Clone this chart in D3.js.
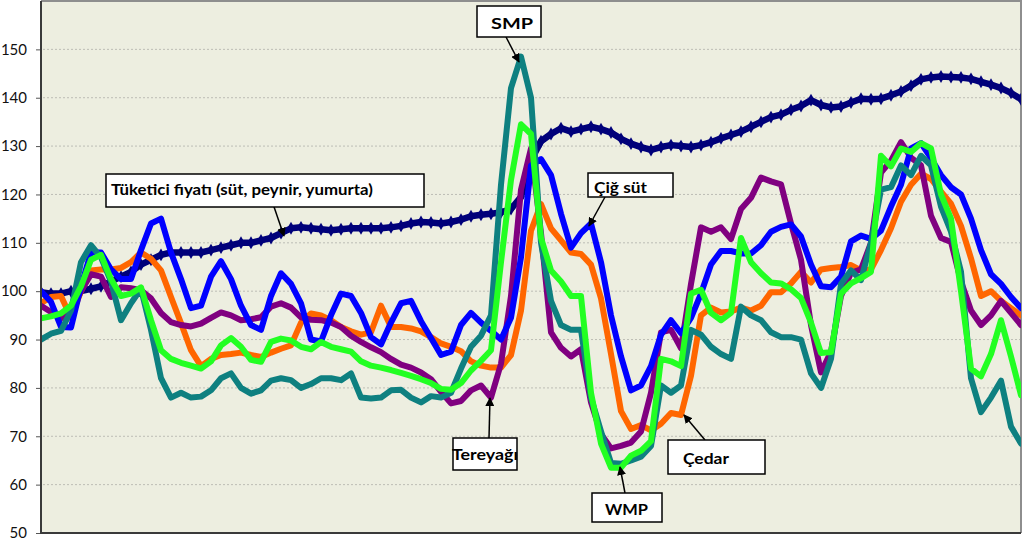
<!DOCTYPE html>
<html>
<head>
<meta charset="utf-8">
<script src="https://cdn.jsdelivr.net/npm/d3@7/dist/d3.min.js"></script>
<style>
  html, body { margin: 0; padding: 0; background: #ffffff; }
  svg { display: block; }
</style>
</head>
<body>
<svg id="chart" width="1024" height="540"></svg>
<script>
// ---- DATA (index positions along the time axis, no labels shown in the original) ----
const categories = d3.range(99);
const yTicks = [50, 60, 70, 80, 90, 100, 110, 120, 130, 140, 150];

const tuketici = [99.8,99.5,99.5,100,100,100.5,101,102,103,104,105.5,106.5,107.5,108,108,108,108,108.5,109,109.5,
  110,110,110.5,111,112,113,113.2,113,112.8,112.6,112.8,113,113,113,113,113.2,113.5,114,114.3,114.2,
  114,114.3,114.8,115.5,115.8,116,116.3,117,119.5,127,131,132.5,133.7,133,133.5,134,133.5,132.8,131.5,130.5,
  129.8,129.2,129.8,130.2,130,129.8,130.2,130.8,131.6,132.3,133,134,135,136,136.5,137.5,138.3,139.5,138.5,138,
  138.2,139,139.8,139.7,139.8,140.5,141.3,142.5,143.8,144.2,144.4,144.3,144.2,143.9,143.3,142.7,142,141,139.7];

const smp = [90,91.2,91.8,96,106,109.5,107,102,94,97.5,100.5,92,82,78,79,78,78.2,79.5,82,83,
  80,78.8,79.5,81.5,82,81.6,80,80.8,82,82,81.6,83,78,77.8,78,79.5,79.6,78,77,78.3,
  78,79,84,88.5,90.8,95,122,142,148.5,140,110,98,93,92,92,78,71,64.5,64.3,65,
  65.8,68,80.5,79,80.5,92,91,88.5,87,86,96.8,95,94,91.5,90.5,90.5,90,83,80,86,
  101.5,104.3,102.3,110,121,121.5,126,124,128,126,117.5,112.3,104,82,75,78,81.5,72,68.5];

const wmp = [94.4,94.8,95.4,97,101,106.5,107.5,102.5,99,99.5,100.8,94,87.8,86,85.2,84.6,84,85.5,88.8,90.3,
  88.5,85.8,85.4,89.5,90.2,89.8,88.5,88,89.5,88.5,88,87.5,85.5,84.6,84.2,83.7,83.1,82.5,81.8,81,
  79.8,79.6,81,83.6,85.6,87.8,106,123,134.5,132.5,111,104.3,102,99,99,79,68.5,63.5,63.5,66,
  67,69,86,85.5,84.5,99.5,100.3,95.5,94,95.5,111,106,103.7,101.8,101.6,100.4,98.6,93.5,87.2,87.4,
  99.5,101.6,102.7,104,128,125.8,129.5,128.8,130.6,129.5,120,115,100,84,82.4,87,94,86.5,78.5];

const cigSut = [100,97.8,92.6,92.5,101,108,108,104.5,102.5,102.5,108.5,114,115,108,102.5,96.5,97,103,106.2,102.5,
  97,93,92,99,103.7,101.5,97.5,90,89.6,95,99.5,99,95.5,90.5,89,93.5,97.5,98,93.8,90.3,
  86.8,87.5,93,95.5,93.5,91.8,90,94.5,107,126,127.3,124,116,109,112,114,106,95,86.5,79.5,
  80.5,84.5,91,94,91.3,94.5,99.5,105.5,108.3,108.3,107.8,107.8,109.5,112.3,113.3,113.8,111.3,105.5,101,100.8,
  103,110.3,111.5,110.8,112.5,117.5,122,129.5,130.6,127.5,124,121.5,120,115,108.5,103.5,101.5,98.8,96.5];

const tereyagi = [97,95.7,94.4,96,100,103.5,103,98.8,100.8,100.6,100.2,98.5,95.5,93.6,93,92.7,93.3,94.5,95.6,95,
  94,94.2,94.6,96.8,97.5,96.6,94.6,94.1,94,93.5,92.6,90.8,89.5,88.4,87.4,86,84.8,84.2,83.2,81.8,
  79.2,76.8,77.3,79.5,80.5,78,85,99,121,129.5,112,91.5,88.3,86.5,88,77,70.5,67.5,68,68.7,
  71,79,91.5,92,88.2,101.5,113.2,112.3,113.2,110.8,117,119.3,123.5,122.7,122.1,114,106.5,93,83.2,87.5,
  99,103.8,104.5,110,124.5,127,130.8,127.6,126,115.6,111,110.2,102,96,93,95,98,95.5,93];

const cedar = [97.5,98.8,99,94.5,100,104.3,104.5,104.5,104.8,106,108,106.7,104.3,98.8,93.4,87.8,84.5,86,86.8,87,
  87.3,86.8,86.4,87.3,88.1,88.8,93.5,95.4,95,94,92.6,91.7,91,91.5,97,92.6,92.6,92.3,91.7,90.5,
  89.2,88.5,87.6,85.5,84.6,84.2,84.2,86.8,96,112.5,118,113,110.5,108,107.7,105.5,98.5,87,75.2,71.5,
  72.3,71.2,72.6,74.8,74.4,82.5,95,96.6,95.6,95.8,96.6,96,97,99.8,99.8,101.6,104,101.8,104.5,104.8,
  105,105.4,104.3,104.5,108.5,113,118.5,122,124.3,123.2,120.6,118.1,113.5,106.8,99,100,98,96.5,95];

const seriesNames = ["Çedar", "Tereyağı", "Çiğ süt", "SMP", "WMP"];
const seriesValues = [cedar, tereyagi, cigSut, smp, wmp];
const seriesColors = ["#FF6600", "#800080", "#0000FF", "#0E8080", "#22FF22"];

const annotations = [
  { text: "Tüketici fiyatı (süt, peynir, yumurta)", box: [106, 174, 318, 33], tx: 111, ty: 195, tl: 262, from: [272, 201], to: [284, 236] },
  { text: "SMP", box: [477, 6, 64, 31], tx: 491, ty: 29, tl: 42, from: [506, 37], to: [519, 62] },
  { text: "Çiğ süt", box: [588, 173, 85, 24], tx: 594, ty: 193, tl: 53, from: [605, 197], to: [589, 226] },
  { text: "Tereyağı", box: [453, 438, 64, 32], tx: 452, ty: 460, tl: 66, from: [489, 438], to: [490, 398] },
  { text: "Çedar", box: [668, 440, 97, 34], tx: 683, ty: 464, tl: 46, from: [705, 440], to: [684, 415] },
  { text: "WMP", box: [592, 493, 70, 29], tx: 605, ty: 515, tl: 43, from: [625, 493], to: [620, 467] }
];

// ---- CHART ----
const svg = d3.select("#chart");
const plot = { left: 41, right: 1021, top: 1, bottom: 533 };

const x = d3.scaleLinear().domain([0, categories.length - 1]).range([plot.left, plot.right]);
const y = d3.scaleLinear().domain([50, 160]).range([plot.bottom, plot.top]);

svg.append("defs").append("clipPath").attr("id", "clip")
  .append("rect").attr("x", plot.left).attr("y", plot.top)
  .attr("width", plot.right - plot.left).attr("height", plot.bottom - plot.top);

svg.select("defs").append("marker")
  .attr("id", "arrow").attr("viewBox", "0 0 10 10").attr("refX", 9).attr("refY", 5)
  .attr("markerWidth", 9).attr("markerHeight", 9).attr("markerUnits", "userSpaceOnUse")
  .attr("orient", "auto")
  .append("path").attr("d", "M0,0 L10,5 L0,10 z").attr("fill", "#000");

// background
svg.append("rect").attr("x", plot.left).attr("y", plot.top)
  .attr("width", plot.right - plot.left).attr("height", plot.bottom - plot.top)
  .attr("fill", "#EDEEE0");

// gridlines
svg.append("g").selectAll("line").data(yTicks.filter(t => t > 50)).join("line")
  .attr("x1", plot.left + 2).attr("x2", plot.right)
  .attr("y1", d => y(d)).attr("y2", d => y(d))
  .attr("stroke", "#BDBDB5").attr("stroke-width", 1).attr("stroke-dasharray", "2,2");

// frame (top / right)
svg.append("path")
  .attr("d", `M${plot.left},${plot.top} H${plot.right} V${plot.bottom}`)
  .attr("fill", "none").attr("stroke", "#8E8E8E").attr("stroke-width", 2);

const g = svg.append("g").attr("clip-path", "url(#clip)");

const line = d3.line().x((d, i) => x(categories[i])).y(d => y(d)).curve(d3.curveLinear);

// consumer price (bottom layer, with diamond markers)
g.append("path").datum(tuketici).attr("d", line)
  .attr("fill", "none").attr("stroke", "#00007A").attr("stroke-width", 6.5).attr("stroke-linejoin", "round");
g.append("g").selectAll("path").data(tuketici).join("path")
  .attr("transform", (d, i) => `translate(${x(categories[i])},${y(d)})`)
  .attr("d", d3.symbol().type(d3.symbolDiamond).size(48))
  .attr("fill", "#00007A");

seriesValues.forEach((vals, k) => {
  g.append("path").datum(vals).attr("d", line)
    .attr("fill", "none").attr("stroke", seriesColors[k]).attr("stroke-width", 6)
    .attr("stroke-linejoin", "round").attr("stroke-linecap", "round")
    .attr("class", "series").attr("data-name", seriesNames[k]);
});

// axes
const yAxis = d3.axisLeft(y).tickValues(yTicks).tickSize(5).tickPadding(9);
const ya = svg.append("g").attr("transform", `translate(${plot.left},0)`).call(yAxis);
ya.select(".domain").remove();
ya.selectAll(".tick line").attr("stroke", "#555");
ya.selectAll("text").attr("font-family", "Lato, 'Open Sans', sans-serif").attr("font-size", 15).attr("fill", "#111");

svg.append("line").attr("x1", plot.left).attr("x2", plot.left).attr("y1", plot.top).attr("y2", plot.bottom + 1)
  .attr("stroke", "#3A3A3A").attr("stroke-width", 2);
svg.append("line").attr("x1", plot.left - 1).attr("x2", plot.right).attr("y1", plot.bottom).attr("y2", plot.bottom)
  .attr("stroke", "#3A3A3A").attr("stroke-width", 2);

// annotations
const ann = svg.append("g");
annotations.forEach(a => {
  ann.append("line").attr("x1", a.from[0]).attr("y1", a.from[1]).attr("x2", a.to[0]).attr("y2", a.to[1])
    .attr("stroke", "#000").attr("stroke-width", 1.5).attr("marker-end", "url(#arrow)");
  ann.append("rect").attr("x", a.box[0]).attr("y", a.box[1]).attr("width", a.box[2]).attr("height", a.box[3])
    .attr("fill", "#fff").attr("stroke", "#000").attr("stroke-width", 1.5);
  ann.append("text").attr("x", a.tx).attr("y", a.ty).text(a.text)
    .attr("font-family", "Lato, 'Open Sans', sans-serif").attr("font-weight", "bold").attr("font-size", 16)
    .attr("textLength", a.tl).attr("lengthAdjust", "spacingAndGlyphs").attr("fill", "#000");
});
</script>
</body>
</html>
